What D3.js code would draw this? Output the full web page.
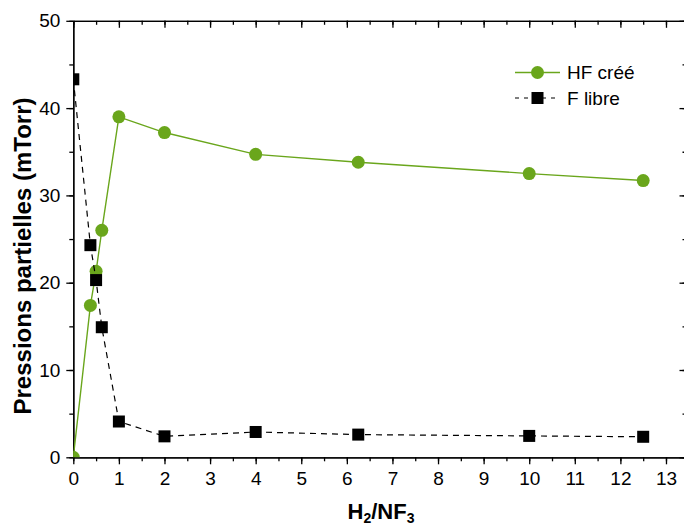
<!DOCTYPE html>
<html><head><meta charset="utf-8">
<script src="https://cdn.jsdelivr.net/npm/d3@7"></script>
<style>html,body{margin:0;padding:0;background:#fff;}svg{display:block;font-family:"Liberation Sans",Arial,sans-serif;}</style>
</head><body><svg id="c" width="684" height="527"></svg>
<script>
const ratio = [0, 0.375, 0.5, 0.625, 1, 2, 4, 6.25, 10, 12.5];
const hfCree = [0, 17.4, 21.3, 26.0, 39.0, 37.2, 34.7, 33.8, 32.5, 31.7];
const fLibre = [43.3, 24.3, 20.3, 14.9, 4.1, 2.4, 2.9, 2.6, 2.45, 2.35];
const xTicks = [0,1,2,3,4,5,6,7,8,9,10,11,12,13];
const yTicks = [0,10,20,30,40,50];
const seriesNames = ["HF créé", "F libre"];

const svg = d3.select("#c");
const L = 73.3, R = 686.5, T = 20.8, B = 457.3;
const x = d3.scaleLinear().domain([0, 13.45]).range([L, R]);
const y = d3.scaleLinear().domain([0, 50]).range([B, T]);
const green = "#6aa61c";

svg.append("defs").append("clipPath").attr("id","clip")
  .append("rect").attr("x",L).attr("y",T).attr("width",R-L).attr("height",B-T);

const xMinor = d3.range(0, 13.5, 0.5);
const yMinor = d3.range(0, 50.1, 5);

function axisStyle(g){
  g.selectAll("path").attr("stroke","#000").attr("stroke-width",1.3);
  g.selectAll("line").attr("stroke","#000").attr("stroke-width",1.3);
  g.selectAll("text").attr("font-size",19).attr("fill","#000").attr("font-family","Liberation Sans, Arial, sans-serif");
}
// bottom
svg.append("g").attr("transform",`translate(0,${B})`)
  .call(d3.axisBottom(x).tickValues(xMinor).tickSize(4).tickFormat("").tickSizeOuter(0)).call(axisStyle);
svg.append("g").attr("transform",`translate(0,${B})`)
  .call(d3.axisBottom(x).tickValues(xTicks).tickSize(7).tickPadding(7).tickFormat(d3.format("d")).tickSizeOuter(0)).call(axisStyle);
// top
svg.append("g").attr("transform",`translate(0,${T})`)
  .call(d3.axisTop(x).tickValues(xMinor).tickSize(-4).tickFormat("").tickSizeOuter(0)).call(axisStyle);
svg.append("g").attr("transform",`translate(0,${T})`)
  .call(d3.axisTop(x).tickValues(xTicks).tickSize(-7).tickFormat("").tickSizeOuter(0)).call(axisStyle);
// left
svg.append("g").attr("transform",`translate(${L},0)`)
  .call(d3.axisLeft(y).tickValues(yMinor).tickSize(4).tickFormat("").tickSizeOuter(0)).call(axisStyle);
svg.append("g").attr("transform",`translate(${L},0)`)
  .call(d3.axisLeft(y).tickValues(yTicks).tickSize(7).tickPadding(6).tickFormat(d3.format("d")).tickSizeOuter(0)).call(axisStyle);
// right
svg.append("g").attr("transform",`translate(${R},0)`)
  .call(d3.axisRight(y).tickValues(yMinor).tickSize(-4).tickFormat("").tickSizeOuter(0)).call(axisStyle);
svg.append("g").attr("transform",`translate(${R},0)`)
  .call(d3.axisRight(y).tickValues(yTicks).tickSize(-7).tickFormat("").tickSizeOuter(0)).call(axisStyle);

const plot = svg.append("g").attr("clip-path","url(#clip)");
const hfData = ratio.map((r,i)=>({x:r,y:hfCree[i]}));
const fData = ratio.map((r,i)=>({x:r,y:fLibre[i]}));
const line = d3.line().x(d=>x(d.x)).y(d=>y(d.y));

plot.append("path").datum(hfData).attr("d",line).attr("fill","none").attr("stroke",green).attr("stroke-width",1.4);
plot.selectAll("circle.hf").data(hfData).enter().append("circle").attr("class","hf")
  .attr("cx",d=>x(d.x)).attr("cy",d=>y(d.y)).attr("r",6.5).attr("fill",green);

plot.append("path").datum(fData).attr("d",line).attr("fill","none").attr("stroke","#000").attr("stroke-width",1.2).attr("stroke-dasharray","6,5");
const S = 12;
plot.selectAll("rect.fl").data(fData).enter().append("rect").attr("class","fl")
  .attr("x",d=>x(d.x)-S/2).attr("y",d=>y(d.y)-S/2).attr("width",S).attr("height",S).attr("fill","#000");

// legend
const lg = svg.append("g");
lg.append("line").attr("x1",515).attr("x2",560).attr("y1",72.5).attr("y2",72.5).attr("stroke",green).attr("stroke-width",1.4);
lg.append("circle").attr("cx",537.5).attr("cy",72.5).attr("r",6.5).attr("fill",green);
lg.append("text").attr("x",567).attr("y",72.5).attr("dy","0.35em").attr("font-size",19).text(seriesNames[0]);
lg.append("line").attr("x1",515).attr("x2",560).attr("y1",98).attr("y2",98).attr("stroke","#000").attr("stroke-width",1.2).attr("stroke-dasharray","4,5");
lg.append("rect").attr("x",531.5).attr("y",92).attr("width",S).attr("height",S).attr("fill","#000");
lg.append("text").attr("x",567).attr("y",98).attr("dy","0.35em").attr("font-size",19).text(seriesNames[1]);

// axis titles
const xt = svg.append("text").attr("x",381).attr("y",519).attr("text-anchor","middle").attr("font-weight","bold").attr("font-size",22);
xt.append("tspan").text("H");
xt.append("tspan").attr("font-size",14).attr("dy",4).text("2");
xt.append("tspan").attr("dy",-4).text("/NF");
xt.append("tspan").attr("font-size",14).attr("dy",4).text("3");

svg.append("text").attr("transform","translate(31,256) rotate(-90)").attr("text-anchor","middle")
  .attr("font-weight","bold").attr("font-size",24).text("Pressions partielles (mTorr)");
</script></body></html>
